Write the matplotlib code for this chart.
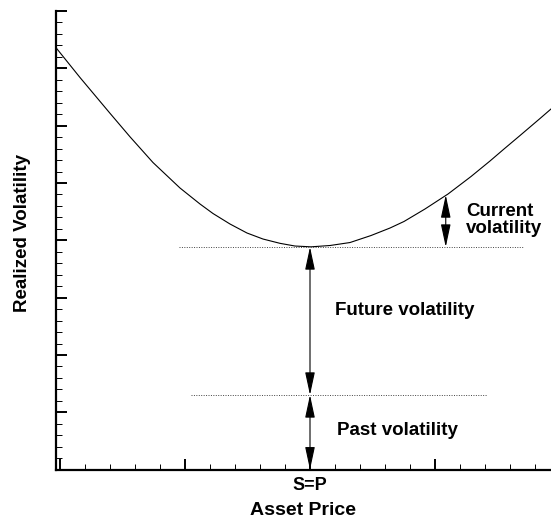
import matplotlib
matplotlib.use("Agg")
import matplotlib.pyplot as plt
from matplotlib.ticker import MultipleLocator

plt.rcParams['font.family'] = ['Liberation Sans', 'DejaVu Sans']
plt.rcParams['font.weight'] = 'bold'
plt.rcParams['axes.labelweight'] = 'bold'

# curve (asset price, realized volatility)
price = [-0.032, 0.16, 0.40, 0.56, 0.744, 0.96, 1.12, 1.224, 1.36, 1.496, 1.624,
         1.76, 1.88, 2.008, 2.16, 2.32, 2.488, 2.64, 2.752, 2.92, 3.104, 3.288,
         3.44, 3.552, 3.68, 3.84, 3.928]
vol = [7.360, 6.840, 6.216, 5.806, 5.357, 4.913, 4.634, 4.468, 4.285, 4.128, 4.023,
       3.948, 3.901, 3.887, 3.910, 3.962, 4.084, 4.215, 4.329, 4.547, 4.808, 5.113,
       5.384, 5.593, 5.828, 6.125, 6.291]

sp = 2.0            # S=P
current_level = 3.884
past_level = 1.303
current_x = 3.086
current_top = 4.79
current_line = [0.952, 3.704]
past_line = [1.048, 3.414]

fig = plt.figure(figsize=(5.51, 5.2), dpi=100)
ax = fig.add_axes([56 / 551, 1 - 469.7 / 520, 495 / 551, (469.7 - 11) / 520])

ax.plot(price, vol, color='black', lw=0.8, solid_joinstyle='round')
ax.plot(current_line, [current_level] * 2, color='#444444', lw=0.7, ls=(0, (1, 1.5)))
ax.plot(past_line, [past_level] * 2, color='#444444', lw=0.7, ls=(0, (1, 1.5)))

arrow = dict(arrowstyle='<|-|>,head_length=1.4,head_width=0.3',
             mutation_scale=10, color='black', lw=0.8,
             shrinkA=0, shrinkB=0)
ax.annotate('', xy=(sp, current_level), xytext=(sp, past_level), arrowprops=arrow)
ax.annotate('', xy=(sp, past_level), xytext=(sp, 0), arrowprops=arrow)
ax.annotate('', xy=(current_x, current_top), xytext=(current_x, current_level),
            arrowprops=arrow)

ax.text(3.246, 4.355, 'Current\nvolatility', fontsize=13.5, va='center', ha='left',
        linespacing=1.0)
ax.text(2.2, 2.785, 'Future volatility', fontsize=13.5, va='center', ha='left')
ax.text(2.214, 0.692, 'Past volatility', fontsize=13.5, va='center', ha='left')

ax.set_xlim(-0.032, 3.928)
ax.set_ylim(0, 8)
ax.xaxis.set_major_locator(MultipleLocator(1))
ax.xaxis.set_minor_locator(MultipleLocator(0.2))
ax.yaxis.set_major_locator(MultipleLocator(1))
ax.yaxis.set_minor_locator(MultipleLocator(0.2))
ax.set_xticks([0, 1, 2, 3])
ax.set_xticklabels(['', '', 'S=P', ''], fontsize=13)
ax.set_yticklabels([])
ax.tick_params(which='major', direction='in', length=8, width=1.4, pad=5)
ax.tick_params(which='minor', direction='in', length=4.5, width=0.7)
ax.tick_params(top=False, right=False, which='both')

for s in ['top', 'right']:
    ax.spines[s].set_visible(False)
for s in ['left', 'bottom']:
    ax.spines[s].set_linewidth(1.6)

ax.set_xlabel('Asset Price', fontsize=14, fontweight='bold', labelpad=6)
ax.set_ylabel('Realized Volatility', fontsize=13.5, fontweight='bold', labelpad=14)
ax.yaxis.set_label_coords(-0.05, 0.515)

fig.savefig('out.png', dpi=100)
